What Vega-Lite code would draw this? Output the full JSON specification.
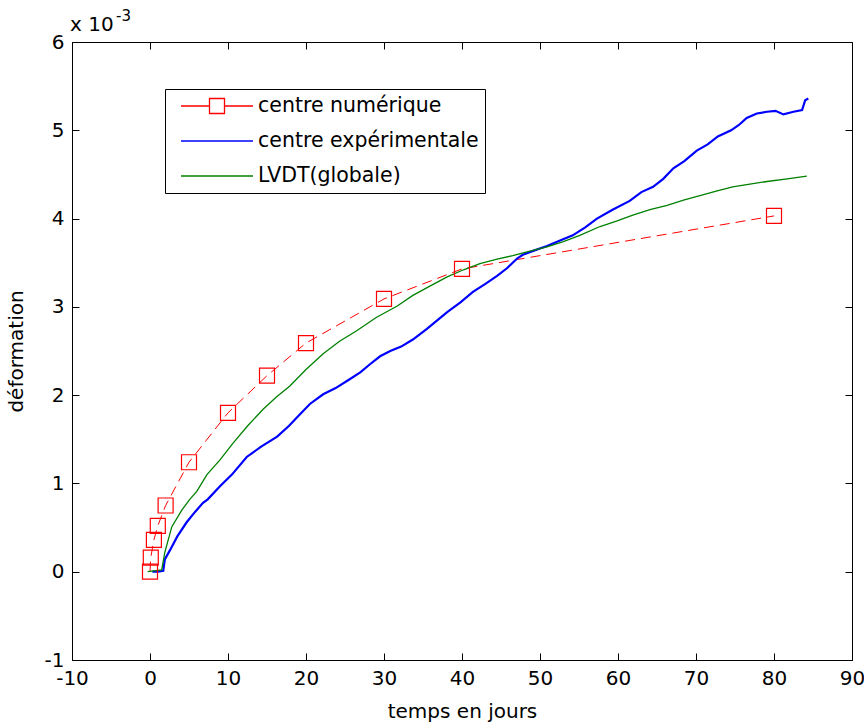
{
  "$schema": "https://vega.github.io/schema/vega-lite/v6.json",
  "width": 780,
  "height": 618,
  "autosize": {"type": "none"},
  "padding": {"left": 72, "top": 42, "right": 12, "bottom": 62},
  "background": "white",
  "config": {
    "view": {"stroke": "black", "strokeWidth": 1},
    "font": "DejaVu Sans",
    "axis": {
      "grid": false,
      "domainColor": "black",
      "tickColor": "black",
      "labelColor": "black",
      "titleColor": "black",
      "labelFont": "DejaVu Sans",
      "titleFont": "DejaVu Sans",
      "labelFontSize": 20,
      "titleFontSize": 20,
      "titleFontWeight": "normal",
      "tickSize": -7
    }
  },
  "data": {
    "values": [
      {"s": "centre numérique", "t": 0, "d": 0.0},
      {"s": "centre numérique", "t": 0.1, "d": 0.00016},
      {"s": "centre numérique", "t": 0.5, "d": 0.00036},
      {"s": "centre numérique", "t": 1, "d": 0.00052},
      {"s": "centre numérique", "t": 2, "d": 0.00075},
      {"s": "centre numérique", "t": 5, "d": 0.00124},
      {"s": "centre numérique", "t": 10, "d": 0.0018},
      {"s": "centre numérique", "t": 15, "d": 0.00222},
      {"s": "centre numérique", "t": 20, "d": 0.00259},
      {"s": "centre numérique", "t": 30, "d": 0.00309},
      {"s": "centre numérique", "t": 40, "d": 0.00343},
      {"s": "centre numérique", "t": 80, "d": 0.00403},
      {"s": "centre expérimentale", "t": 0.3, "d": 0.0},
      {"s": "centre expérimentale", "t": 1.0, "d": 0.0},
      {"s": "centre expérimentale", "t": 1.7, "d": 0.00001},
      {"s": "centre expérimentale", "t": 1.9, "d": 0.00014},
      {"s": "centre expérimentale", "t": 2.6, "d": 0.00025},
      {"s": "centre expérimentale", "t": 3.5, "d": 0.0004},
      {"s": "centre expérimentale", "t": 4.7, "d": 0.00056},
      {"s": "centre expérimentale", "t": 5.8, "d": 0.00068},
      {"s": "centre expérimentale", "t": 6.8, "d": 0.00078},
      {"s": "centre expérimentale", "t": 7.4, "d": 0.00082},
      {"s": "centre expérimentale", "t": 9.0, "d": 0.00097},
      {"s": "centre expérimentale", "t": 10.5, "d": 0.0011},
      {"s": "centre expérimentale", "t": 12.4, "d": 0.0013},
      {"s": "centre expérimentale", "t": 14.3, "d": 0.00142},
      {"s": "centre expérimentale", "t": 16.3, "d": 0.00153},
      {"s": "centre expérimentale", "t": 17.8, "d": 0.00165},
      {"s": "centre expérimentale", "t": 19.2, "d": 0.00178},
      {"s": "centre expérimentale", "t": 20.5, "d": 0.0019},
      {"s": "centre expérimentale", "t": 22.2, "d": 0.00201},
      {"s": "centre expérimentale", "t": 23.8, "d": 0.00208},
      {"s": "centre expérimentale", "t": 25.6, "d": 0.00218},
      {"s": "centre expérimentale", "t": 27.0, "d": 0.00226},
      {"s": "centre expérimentale", "t": 28.2, "d": 0.00235},
      {"s": "centre expérimentale", "t": 29.5, "d": 0.00244},
      {"s": "centre expérimentale", "t": 30.8, "d": 0.0025},
      {"s": "centre expérimentale", "t": 32.2, "d": 0.00255},
      {"s": "centre expérimentale", "t": 33.7, "d": 0.00263},
      {"s": "centre expérimentale", "t": 35.5, "d": 0.00275},
      {"s": "centre expérimentale", "t": 38.1, "d": 0.00294},
      {"s": "centre expérimentale", "t": 39.8, "d": 0.00305},
      {"s": "centre expérimentale", "t": 41.4, "d": 0.00317},
      {"s": "centre expérimentale", "t": 43.0, "d": 0.00326},
      {"s": "centre expérimentale", "t": 44.5, "d": 0.00335},
      {"s": "centre expérimentale", "t": 45.8, "d": 0.00344},
      {"s": "centre expérimentale", "t": 47.1, "d": 0.00355},
      {"s": "centre expérimentale", "t": 47.8, "d": 0.00359},
      {"s": "centre expérimentale", "t": 49.3, "d": 0.00364},
      {"s": "centre expérimentale", "t": 50.9, "d": 0.00369},
      {"s": "centre expérimentale", "t": 52.5, "d": 0.00375},
      {"s": "centre expérimentale", "t": 54.2, "d": 0.00381},
      {"s": "centre expérimentale", "t": 55.8, "d": 0.0039},
      {"s": "centre expérimentale", "t": 57.3, "d": 0.004},
      {"s": "centre expérimentale", "t": 59.3, "d": 0.0041},
      {"s": "centre expérimentale", "t": 61.5, "d": 0.0042},
      {"s": "centre expérimentale", "t": 63.0, "d": 0.0043},
      {"s": "centre expérimentale", "t": 64.5, "d": 0.00436},
      {"s": "centre expérimentale", "t": 65.8, "d": 0.00445},
      {"s": "centre expérimentale", "t": 67.1, "d": 0.00457},
      {"s": "centre expérimentale", "t": 68.5, "d": 0.00465},
      {"s": "centre expérimentale", "t": 70.1, "d": 0.00477},
      {"s": "centre expérimentale", "t": 71.5, "d": 0.00484},
      {"s": "centre expérimentale", "t": 72.8, "d": 0.00493},
      {"s": "centre expérimentale", "t": 74.5, "d": 0.005},
      {"s": "centre expérimentale", "t": 75.5, "d": 0.00506},
      {"s": "centre expérimentale", "t": 76.5, "d": 0.00514},
      {"s": "centre expérimentale", "t": 77.8, "d": 0.00519},
      {"s": "centre expérimentale", "t": 79.1, "d": 0.00521},
      {"s": "centre expérimentale", "t": 80.2, "d": 0.00522},
      {"s": "centre expérimentale", "t": 81.2, "d": 0.00518},
      {"s": "centre expérimentale", "t": 82.5, "d": 0.00521},
      {"s": "centre expérimentale", "t": 83.6, "d": 0.00523},
      {"s": "centre expérimentale", "t": 84.0, "d": 0.00534},
      {"s": "centre expérimentale", "t": 84.4, "d": 0.00536},
      {"s": "LVDT(globale)", "t": -0.3, "d": 0.0},
      {"s": "LVDT(globale)", "t": 0.5, "d": 0.00001},
      {"s": "LVDT(globale)", "t": 1.5, "d": 0.00002},
      {"s": "LVDT(globale)", "t": 1.9, "d": 0.00022},
      {"s": "LVDT(globale)", "t": 2.8, "d": 0.00051},
      {"s": "LVDT(globale)", "t": 4.1, "d": 0.0007},
      {"s": "LVDT(globale)", "t": 5.1, "d": 0.00082},
      {"s": "LVDT(globale)", "t": 6.0, "d": 0.00091},
      {"s": "LVDT(globale)", "t": 7.3, "d": 0.0011},
      {"s": "LVDT(globale)", "t": 9.0, "d": 0.00127},
      {"s": "LVDT(globale)", "t": 10.6, "d": 0.00145},
      {"s": "LVDT(globale)", "t": 12.5, "d": 0.00165},
      {"s": "LVDT(globale)", "t": 14.5, "d": 0.00184},
      {"s": "LVDT(globale)", "t": 16.2, "d": 0.00198},
      {"s": "LVDT(globale)", "t": 17.9, "d": 0.0021},
      {"s": "LVDT(globale)", "t": 20.0, "d": 0.00229},
      {"s": "LVDT(globale)", "t": 22.2, "d": 0.00247},
      {"s": "LVDT(globale)", "t": 24.3, "d": 0.00261},
      {"s": "LVDT(globale)", "t": 26.5, "d": 0.00273},
      {"s": "LVDT(globale)", "t": 29.0, "d": 0.00288},
      {"s": "LVDT(globale)", "t": 31.7, "d": 0.00301},
      {"s": "LVDT(globale)", "t": 33.7, "d": 0.00313},
      {"s": "LVDT(globale)", "t": 36.0, "d": 0.00324},
      {"s": "LVDT(globale)", "t": 38.1, "d": 0.00334},
      {"s": "LVDT(globale)", "t": 40.2, "d": 0.00342},
      {"s": "LVDT(globale)", "t": 42.3, "d": 0.00349},
      {"s": "LVDT(globale)", "t": 44.5, "d": 0.00354},
      {"s": "LVDT(globale)", "t": 46.5, "d": 0.00358},
      {"s": "LVDT(globale)", "t": 48.7, "d": 0.00363},
      {"s": "LVDT(globale)", "t": 50.9, "d": 0.00368},
      {"s": "LVDT(globale)", "t": 53.0, "d": 0.00374},
      {"s": "LVDT(globale)", "t": 55.1, "d": 0.00381},
      {"s": "LVDT(globale)", "t": 57.7, "d": 0.00391},
      {"s": "LVDT(globale)", "t": 59.8, "d": 0.00397},
      {"s": "LVDT(globale)", "t": 61.9, "d": 0.00404},
      {"s": "LVDT(globale)", "t": 64.1, "d": 0.0041},
      {"s": "LVDT(globale)", "t": 66.3, "d": 0.00415},
      {"s": "LVDT(globale)", "t": 68.4, "d": 0.00421},
      {"s": "LVDT(globale)", "t": 70.5, "d": 0.00426},
      {"s": "LVDT(globale)", "t": 72.6, "d": 0.00431},
      {"s": "LVDT(globale)", "t": 74.7, "d": 0.00436},
      {"s": "LVDT(globale)", "t": 76.9, "d": 0.00439},
      {"s": "LVDT(globale)", "t": 79.1, "d": 0.00442},
      {"s": "LVDT(globale)", "t": 81.7, "d": 0.00445},
      {"s": "LVDT(globale)", "t": 84.2, "d": 0.00448}
    ]
  },
  "layer": [
    {
      "transform": [{"filter": "datum.s === 'centre numérique'"}],
      "mark": {"type": "line", "clip": true, "strokeDash": [10, 6], "strokeWidth": 1},
      "encoding": {
        "x": {
          "field": "t", "type": "quantitative",
          "scale": {"domain": [-10, 90], "nice": false, "zero": false},
          "axis": {"orient": "bottom", "values": [-10, 0, 10, 20, 30, 40, 50, 60, 70, 80, 90], "labelExpr": "'' + datum.value", "labelPadding": 15, "labelFlush": false, "labelOverlap": false, "title": "temps en jours", "titlePadding": 13}
        },
        "y": {
          "field": "d", "type": "quantitative",
          "scale": {"domain": [-0.001, 0.006], "nice": false, "zero": false},
          "axis": {"orient": "left", "values": [-0.001, 0, 0.001, 0.002, 0.003, 0.004, 0.005, 0.006], "labelExpr": "'' + round(datum.value * 1000)", "labelPadding": 15, "labelFlush": false, "labelOverlap": false, "title": "déformation", "titlePadding": 18}
        },
        "color": {
          "field": "s", "type": "nominal",
          "scale": {"domain": ["centre numérique", "centre expérimentale", "LVDT(globale)"], "range": ["#ff0000", "#0000ff", "#008000"]},
          "legend": {
            "title": null,
            "orient": "none",
            "legendX": 93,
            "legendY": 47,
            "strokeColor": "black",
            "fillColor": "white",
            "padding": 6,
            "symbolOffset": 35,
            "labelOffset": 30,
            "rowPadding": 13,
            "symbolSize": 400,
            "symbolDash": [],
            "labelFont": "DejaVu Sans",
            "labelFontSize": 20.5,
            "labelColor": "black",
            "labelLimit": 400,
            "encode": {
              "symbols": {
                "update": {
                  "shape": {"signal": "datum.value === 'centre numérique' ? 'M-3.6,0H-0.75M0.75,0H3.6M-0.75,-0.75H0.75V0.75H-0.75Z' : 'M-3.6,0H3.6'"},
                  "size": {"value": 400},
                  "fill": {"value": "transparent"},
                  "strokeWidth": {"value": 1.3},
                  "strokeDash": {"value": []}
                }
              }
            }
          }
        }
      }
    },
    {
      "transform": [{"filter": "datum.s === 'centre expérimentale'"}],
      "mark": {"type": "line", "clip": true, "strokeWidth": 2.2},
      "encoding": {
        "x": {"field": "t", "type": "quantitative", "axis": null},
        "y": {"field": "d", "type": "quantitative", "axis": null},
        "color": {"field": "s", "type": "nominal"}
      }
    },
    {
      "transform": [{"filter": "datum.s === 'LVDT(globale)'"}],
      "mark": {"type": "line", "clip": true, "strokeWidth": 1.3},
      "encoding": {
        "x": {"field": "t", "type": "quantitative", "axis": null},
        "y": {"field": "d", "type": "quantitative", "axis": null},
        "color": {"field": "s", "type": "nominal"}
      }
    },
    {
      "transform": [{"filter": "datum.s === 'centre numérique'"}],
      "mark": {"type": "point", "shape": "square", "filled": false, "size": 225, "color": "#ff0000", "strokeWidth": 1.2, "opacity": 1},
      "encoding": {
        "x": {"field": "t", "type": "quantitative", "axis": {"orient": "top", "values": [-10, 0, 10, 20, 30, 40, 50, 60, 70, 80, 90], "labels": false, "domain": false, "title": null}},
        "y": {"field": "d", "type": "quantitative", "axis": {"orient": "right", "values": [-0.001, 0, 0.001, 0.002, 0.003, 0.004, 0.005, 0.006], "labels": false, "domain": false, "title": null}}
      }
    },
    {
      "data": {"values": [{"label": "x 10"}]},
      "mark": {"type": "text", "align": "left", "baseline": "alphabetic", "fontSize": 20, "font": "DejaVu Sans", "color": "black"},
      "encoding": {
        "x": {"datum": -10.26, "type": "quantitative", "axis": null},
        "y": {"datum": 0.006125, "type": "quantitative", "axis": null},
        "text": {"field": "label"}
      }
    },
    {
      "data": {"values": [{"label": "-3"}]},
      "mark": {"type": "text", "align": "left", "baseline": "alphabetic", "fontSize": 15, "font": "DejaVu Sans", "color": "black"},
      "encoding": {
        "x": {"datum": -4.36, "type": "quantitative", "axis": null},
        "y": {"datum": 0.00624, "type": "quantitative", "axis": null},
        "text": {"field": "label"}
      }
    }
  ],
  "resolve": {"axis": {"x": "independent", "y": "independent"}}
}
